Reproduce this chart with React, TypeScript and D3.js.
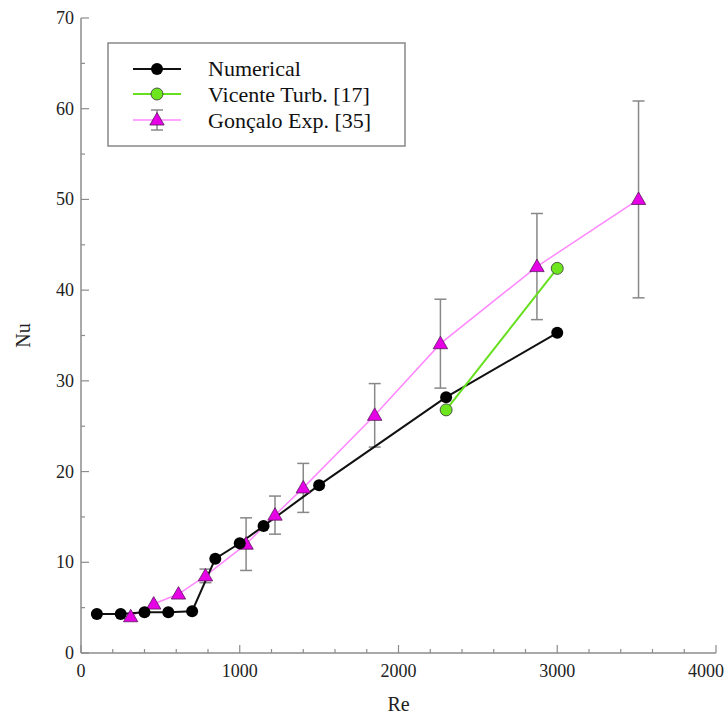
import React from "react";
import * as d3 from "d3";

const numRe = [100, 250, 400, 550, 700, 846, 1000, 1150, 1500, 2300, 3000];
const numNu = [4.3, 4.3, 4.5, 4.5, 4.6, 10.4, 12.1, 14.0, 18.5, 28.2, 35.3];

const vicRe = [2300, 3000];
const vicNu = [26.8, 42.4];

const gonRe = [313, 458, 614, 784, 1040, 1222, 1400, 1850, 2264, 2872, 3512];
const gonNu = [4.0, 5.4, 6.5, 8.5, 12.0, 15.2, 18.2, 26.2, 34.1, 42.6, 50.0];
const gonErr = [0, 0, 0, 0.75, 2.9, 2.1, 2.7, 3.5, 4.9, 5.85, 10.85];

const xTicks = [0, 1000, 2000, 3000, 4000];
const yTicks = [0, 10, 20, 30, 40, 50, 60, 70];

const W = 728;
const H = 718;
const left = 81;
const right = 716;
const top = 18;
const bottom = 653;

export default function App() {
  const x = d3.scaleLinear().domain([0, 4000]).range([left, right]);
  const y = d3.scaleLinear().domain([0, 70]).range([bottom, top]);
  const line = d3
    .line<[number, number]>()
    .x((d) => x(d[0]))
    .y((d) => y(d[1]));
  const num: [number, number][] = numRe.map((r, i) => [r, numNu[i]]);
  const vic: [number, number][] = vicRe.map((r, i) => [r, vicNu[i]]);
  const gon: [number, number][] = gonRe.map((r, i) => [r, gonNu[i]]);
  const xMinor = d3.range(0, 4001, 200);
  const yMinor = d3.range(0, 70.1, 5);
  const axisColor = "#8c8c8c";
  const font = "Liberation Serif, Times New Roman, DejaVu Serif, serif";
  const tri = (cx: number, cy: number, s: number) =>
    `M${cx},${cy - s * 0.62}L${cx + s * 0.6},${cy + s * 0.42}L${cx - s * 0.6},${cy + s * 0.42}Z`;

  return (
    <svg
      width={W}
      height={H}
      style={{ position: "absolute", left: 0, top: 0, background: "#fff", fontFamily: font }}
    >
      {/* axes */}
      <line x1={left} y1={bottom} x2={right} y2={bottom} stroke={axisColor} strokeWidth={1.5} />
      <line x1={left} y1={bottom} x2={left} y2={top} stroke={axisColor} strokeWidth={1.5} />
      {xMinor.map((v) => (
        <line
          key={"xm" + v}
          x1={x(v)}
          x2={x(v)}
          y1={bottom}
          y2={bottom - (v % 1000 === 0 ? 8 : 4)}
          stroke={axisColor}
          strokeWidth={1.2}
        />
      ))}
      {yMinor.map((v) => (
        <line
          key={"ym" + v}
          x1={left}
          x2={left + (v % 10 === 0 ? 8 : 4)}
          y1={y(v)}
          y2={y(v)}
          stroke={axisColor}
          strokeWidth={1.2}
        />
      ))}
      {xTicks.map((v) => (
        <text
          key={"xt" + v}
          x={Math.min(x(v), W - 22)}
          y={bottom + 24}
          textAnchor="middle"
          fontSize={18}
          fill="#222"
        >
          {v}
        </text>
      ))}
      {yTicks.map((v) => (
        <text key={"yt" + v} x={left - 7} y={y(v) + 6} textAnchor="end" fontSize={18} fill="#222">
          {v}
        </text>
      ))}
      <text x={(left + right) / 2} y={bottom + 58} textAnchor="middle" fontSize={20} fill="#222">
        Re
      </text>
      <text
        transform={`translate(30,${(top + bottom) / 2}) rotate(-90)`}
        textAnchor="middle"
        fontSize={20}
        fill="#222"
      >
        Nu
      </text>

      {/* Gonçalo error bars */}
      {gon.map((d, i) =>
        gonErr[i] > 0 ? (
          <g key={"eb" + i} stroke="#888" strokeWidth={1.5}>
            <line x1={x(d[0])} x2={x(d[0])} y1={y(d[1] - gonErr[i])} y2={y(d[1] + gonErr[i])} />
            <line x1={x(d[0]) - 6} x2={x(d[0]) + 6} y1={y(d[1] - gonErr[i])} y2={y(d[1] - gonErr[i])} />
            <line x1={x(d[0]) - 6} x2={x(d[0]) + 6} y1={y(d[1] + gonErr[i])} y2={y(d[1] + gonErr[i])} />
          </g>
        ) : null
      )}
      <path d={line(gon) || ""} fill="none" stroke="#ff88ff" strokeWidth={1.5} />
      <path d={line(num) || ""} fill="none" stroke="#111" strokeWidth={2} />
      <path d={line(vic) || ""} fill="none" stroke="#66e01e" strokeWidth={2} />
      {gon.map((d, i) => (
        <path key={"gt" + i} d={tri(x(d[0]), y(d[1]), 12)} fill="#e600e6" stroke="#5a1a5a" strokeWidth={0.8} />
      ))}
      {num.map((d, i) => (
        <circle key={"nc" + i} cx={x(d[0])} cy={y(d[1])} r={6} fill="#000" />
      ))}
      {vic.map((d, i) => (
        <circle key={"vc" + i} cx={x(d[0])} cy={y(d[1])} r={6} fill="#6ee61e" stroke="#333" strokeWidth={0.8} />
      ))}

      {/* legend */}
      <rect x={108} y={43} width={297} height={103} fill="#fff" stroke="#888" strokeWidth={1.5} />
      <g>
        <line x1={133} x2={181} y1={69} y2={69} stroke="#111" strokeWidth={2} />
        <circle cx={157} cy={69} r={6} fill="#000" />
        <text x={208} y={76} fontSize={22} fill="#111">Numerical</text>

        <line x1={133} x2={181} y1={94} y2={94} stroke="#66e01e" strokeWidth={2} />
        <circle cx={157} cy={94} r={6} fill="#6ee61e" stroke="#333" strokeWidth={0.8} />
        <text x={208} y={102} fontSize={22} fill="#111">Vicente Turb. [17]</text>

        <line x1={133} x2={181} y1={120} y2={120} stroke="#ff88ff" strokeWidth={1.5} />
        <g stroke="#888" strokeWidth={1.5}>
          <line x1={157} x2={157} y1={110} y2={130} />
          <line x1={151} x2={163} y1={110} y2={110} />
          <line x1={151} x2={163} y1={130} y2={130} />
        </g>
        <path d={tri(157, 120, 12)} fill="#e600e6" stroke="#5a1a5a" strokeWidth={0.8} />
        <text x={208} y={128} fontSize={22} fill="#111">Gonçalo Exp. [35]</text>
      </g>
    </svg>
  );
}
